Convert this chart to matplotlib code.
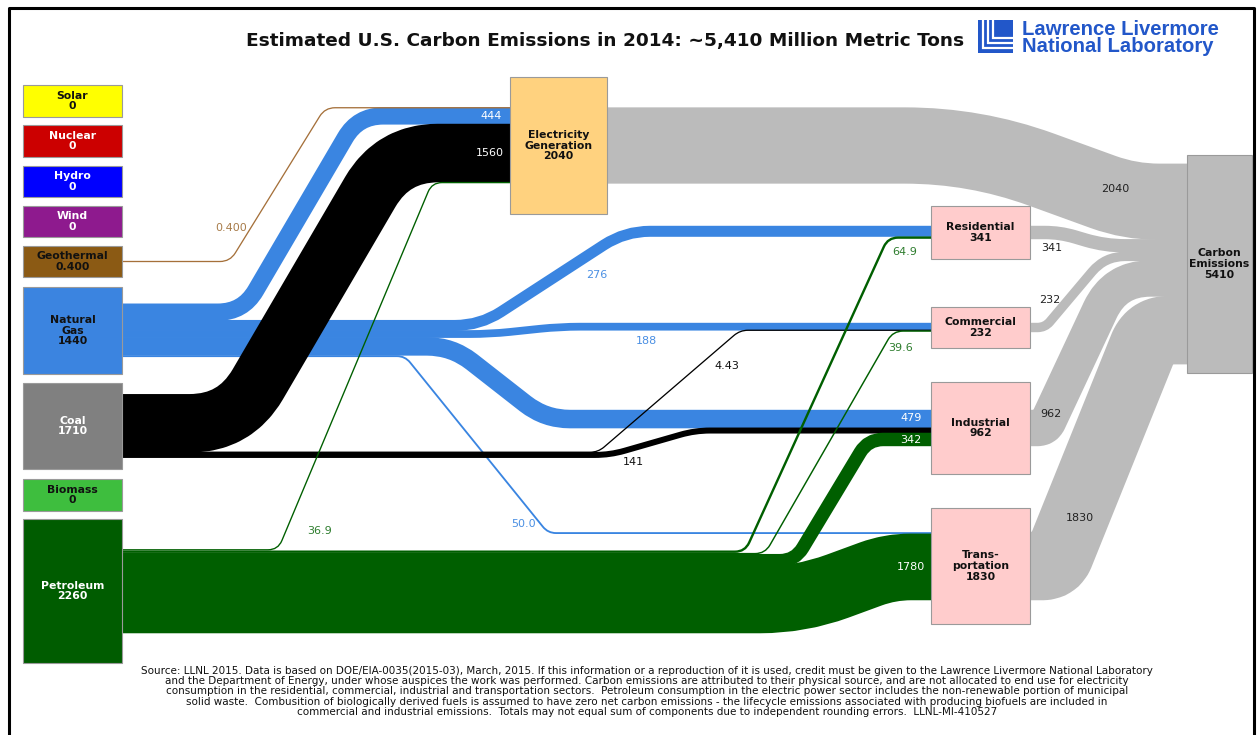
import numpy as np
import matplotlib.pyplot as plt
from matplotlib.path import Path
from matplotlib.patches import PathPatch, Rectangle

W, H = 1257, 735
S = 0.037  # pixels per million metric tons

# ---- data ----
node_keys = ['Solar', 'Nuclear', 'Hydro', 'Wind', 'Geothermal', 'NaturalGas', 'Coal',
             'Biomass', 'Petroleum', 'Electricity', 'Residential', 'Commercial',
             'Industrial', 'Transportation', 'Carbon']
node_labels = ['Solar', 'Nuclear', 'Hydro', 'Wind', 'Geothermal', 'Natural\nGas', 'Coal',
               'Biomass', 'Petroleum', 'Electricity\nGeneration', 'Residential', 'Commercial',
               'Industrial', 'Trans-\nportation', 'Carbon\nEmissions']
node_values = [0, 0, 0, 0, 0.400, 1440, 1710, 0, 2260, 2040, 341, 232, 962, 1830, 5410]

flow_src = ['Geothermal', 'NaturalGas', 'NaturalGas', 'NaturalGas', 'NaturalGas', 'NaturalGas',
            'Coal', 'Coal', 'Coal',
            'Petroleum', 'Petroleum', 'Petroleum', 'Petroleum', 'Petroleum',
            'Electricity', 'Residential', 'Commercial', 'Industrial', 'Transportation']
flow_dst = ['Electricity', 'Electricity', 'Residential', 'Commercial', 'Industrial', 'Transportation',
            'Electricity', 'Commercial', 'Industrial',
            'Electricity', 'Residential', 'Commercial', 'Industrial', 'Transportation',
            'Carbon', 'Carbon', 'Carbon', 'Carbon', 'Carbon']
flow_values = [0.400, 444, 276, 188, 479, 50.0,
               1560, 4.43, 141,
               36.9, 64.9, 39.6, 342, 1780,
               2040, 341, 232, 962, 1830]

title = 'Estimated U.S. Carbon Emissions in 2014: ~5,410 Million Metric Tons'
footnote = [
    'Source: LLNL 2015. Data is based on DOE/EIA-0035(2015-03), March, 2015. If this information or a reproduction of it is used, credit must be given to the Lawrence Livermore National Laboratory',
    'and the Department of Energy, under whose auspices the work was performed. Carbon emissions are attributed to their physical source, and are not allocated to end use for electricity',
    'consumption in the residential, commercial, industrial and transportation sectors.  Petroleum consumption in the electric power sector includes the non-renewable portion of municipal',
    'solid waste.  Combusition of biologically derived fuels is assumed to have zero net carbon emissions - the lifecycle emissions associated with producing biofuels are included in',
    'commercial and industrial emissions.  Totals may not equal sum of components due to independent rounding errors.  LLNL-MI-410527',
]

# ---- layout (pixels, y down) ----
boxes = {
    'Solar': (23, 85, 122, 117), 'Nuclear': (23, 125, 122, 157), 'Hydro': (23, 166, 122, 197),
    'Wind': (23, 206, 122, 237), 'Geothermal': (23, 246, 122, 277), 'NaturalGas': (23, 287, 122, 374),
    'Coal': (23, 383, 122, 469), 'Biomass': (23, 479, 122, 511), 'Petroleum': (23, 519, 122, 663),
    'Electricity': (510, 77, 607, 214), 'Residential': (931, 206, 1030, 259),
    'Commercial': (931, 307, 1030, 348), 'Industrial': (931, 382, 1030, 474),
    'Transportation': (931, 508, 1030, 624), 'Carbon': (1187, 155, 1252, 373),
}
box_colors = {
    'Solar': '#ffff00', 'Nuclear': '#cc0000', 'Hydro': '#0000ff', 'Wind': '#8e1a8e',
    'Geothermal': '#8b5a14', 'NaturalGas': '#3b84e0', 'Coal': '#808080', 'Biomass': '#3ebe3e',
    'Petroleum': '#005c00', 'Electricity': '#ffd27f', 'Residential': '#ffcccc',
    'Commercial': '#ffcccc', 'Industrial': '#ffcccc', 'Transportation': '#ffcccc', 'Carbon': '#bbbbbb',
}
box_text = {'Nuclear': 'white', 'Hydro': 'white', 'Wind': 'white', 'Coal': 'white', 'Petroleum': 'white'}

flow_colors = {'Geothermal': '#a5703a', 'NaturalGas': '#3a85e1', 'Coal': '#000000',
               'Petroleum': '#005f00', 'Electricity': '#bbbbbb', 'Residential': '#bbbbbb',
               'Commercial': '#bbbbbb', 'Industrial': '#bbbbbb', 'Transportation': '#bbbbbb'}
label_colors = {'Geothermal': '#a87c4a', 'NaturalGas': '#4a8fe3', 'Coal': '#111111',
                'Petroleum': '#2e7d2e', 'Electricity': '#222222', 'Residential': '#222222',
                'Commercial': '#222222', 'Industrial': '#222222', 'Transportation': '#222222'}

# bend x positions and corner radius for each flow
routes = [(230, 325, 10), (243, 358, 25), (480, 625, 25), (490, 560, 20), (452, 545, 25), (405, 548, 8),
          (235, 393, 45), (598, 740, 8), (610, 695, 15),
          (278, 432, 10), (745, 888, 10), (765, 893, 10), (795, 868, 15), (800, 890, 40),
          (975, 1130, 70), (1060, 1105, 20), (1045, 1105, 20), (1045, 1115, 35), (1055, 1150, 45)]
# label positions (x, y) and colour override for labels sitting inside the bands
label_pos = [(231, 228), (491, 116), (597, 275), (646, 341), (911, 418), (523, 524),
             (490, 153), (727, 366), (633, 462),
             (320, 531), (905, 252), (901, 348), (911, 440), (911, 567),
             (1115, 189), (1052, 248), (1050, 300), (1051, 414), (1080, 518)]
white_labels = {1, 4, 6, 12, 13}


def fmt3(v):
    if v == 0:
        return '0'
    d = 2 - int(np.floor(np.log10(abs(v))))
    if d > 0:
        return f'{v:.{d}f}'
    return str(int(round(v, d)))


def rounded_path(pts, r):
    verts, codes = [pts[0]], [Path.MOVETO]
    for i in range(1, len(pts) - 1):
        p0, p1, p2 = (np.array(p, float) for p in pts[i - 1:i + 2])
        d1, d2 = p1 - p0, p2 - p1
        l1, l2 = np.hypot(*d1), np.hypot(*d2)
        if l1 < 1e-6 or l2 < 1e-6:
            continue
        rr = min(r, l1 / 2, l2 / 2)
        verts += [p1 - d1 / l1 * rr, p1, p1 + d2 / l2 * rr]
        codes += [Path.LINETO, Path.CURVE3, Path.CURVE3]
    verts.append(pts[-1])
    codes.append(Path.LINETO)
    return Path(verts, codes)


# stack flows at each node, centred on the box
def stack(keys, vals):
    centers = [0.0] * len(vals)
    for node in set(keys):
        idx = [i for i, k in enumerate(keys) if k == node]
        x0, y0, x1, y1 = boxes[node]
        y = (y0 + y1) / 2 - sum(vals[i] for i in idx) * S / 2
        for i in idx:
            centers[i] = y + vals[i] * S / 2
            y += vals[i] * S
    return centers


y_out = stack(flow_src, flow_values)
y_in = stack(flow_dst, flow_values)

fig = plt.figure(figsize=(W / 100, H / 100), dpi=100, facecolor='white')
ax = fig.add_axes([0, 0, 1, 1])
ax.set_xlim(0, W)
ax.set_ylim(H, 0)
ax.axis('off')

# draw grey first, then gas, coal, petroleum, geothermal on top
order = list(range(14, 19)) + list(range(1, 6)) + [6, 7, 8] + list(range(9, 14)) + [0]
for i in order:
    src, dst, v = flow_src[i], flow_dst[i], flow_values[i]
    xs = boxes[src][2]
    xd = boxes[dst][0]
    x1, x2, r = routes[i]
    pts = [(xs, y_out[i]), (x1, y_out[i]), (x2, y_in[i]), (xd, y_in[i])]
    w = v * S
    w = w + 0.8 if w > 3 else max(w, 1.3)   # slight overlap hides seams between stacked bands
    ax.add_patch(PathPatch(rounded_path(pts, r), fill=False, edgecolor=flow_colors[src],
                           lw=w * 0.72, capstyle='butt', joinstyle='round', zorder=2))

for i, (lx, ly) in enumerate(label_pos):
    c = 'white' if i in white_labels else label_colors[flow_src[i]]
    ax.text(lx, ly, fmt3(flow_values[i]), color=c, fontsize=8, ha='center', va='center', zorder=5)

for k, lab, val in zip(node_keys, node_labels, node_values):
    x0, y0, x1, y1 = boxes[k]
    ax.add_patch(Rectangle((x0, y0), x1 - x0, y1 - y0, facecolor=box_colors[k],
                           edgecolor='#9a9a9a', lw=0.8, zorder=3))
    ax.text((x0 + x1) / 2, (y0 + y1) / 2, f'{lab}\n{fmt3(val)}', color=box_text.get(k, '#111111'),
            fontsize=7.8, fontweight='bold', ha='center', va='center', linespacing=1.1, zorder=4)

# title
ax.text(605, 41, title, fontsize=13.3, fontweight='bold', ha='center', va='center', color='#111111')

# LLNL logo
logo = '#2257c9'
ax.add_patch(Rectangle((978, 20), 35, 33, facecolor=logo, edgecolor='none'))
for off in (5, 10, 15):
    ax.plot([978 + off, 978 + off, 1013], [20, 53 - off, 53 - off], color='white', lw=1.6,
            solid_joinstyle='miter')
ax.text(1022, 38, 'Lawrence Livermore\nNational Laboratory', fontsize=14.6, fontweight='bold',
        color=logo, family='Liberation Sans', ha='left', va='center', linespacing=0.82)

# footnote
for j, line in enumerate(footnote):
    ax.text(647, 671 + j * 10.2, line, fontsize=7.5, ha='center', va='center', color='#111111')

# frame
ax.plot([9, 9, 1254, 1254], [H + 5, 8, 8, H + 5], color='black', lw=2.2, clip_on=False)

fig.savefig('out.png', dpi=100, facecolor='white')
